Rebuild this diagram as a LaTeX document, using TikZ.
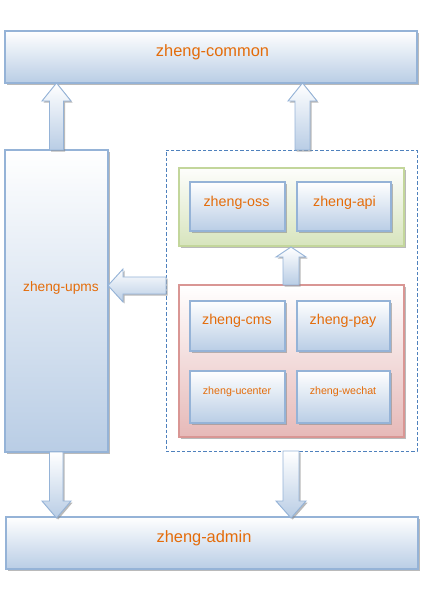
\documentclass[tikz,border=0pt]{standalone}
\usepackage{fontspec}
\setmainfont{Liberation Sans}
\usetikzlibrary{shadows}
\definecolor{bblue}{HTML}{B9CDE5}
\definecolor{bline}{HTML}{95B3D7}
\definecolor{gfill}{HTML}{D7E4BD}
\definecolor{gline}{HTML}{C3D69B}
\definecolor{rfill}{HTML}{E6B9B8}
\definecolor{rline}{HTML}{D99694}
\definecolor{txt}{HTML}{E46C0A}
\definecolor{dline}{HTML}{4F81BD}
\tikzset{
  shd/.style={drop shadow={shadow xshift=1.2pt,shadow yshift=-1.2pt,fill=black!45,opacity=0.6}},
  bluebox/.style={shd,draw=bline,line width=0.8pt,top color=white,bottom color=bblue,inner sep=0pt},
  greenbox/.style={shd,draw=gline,line width=0.8pt,top color=white!95!gfill,bottom color=gfill,inner sep=0pt},
  redbox/.style={shd,draw=rline,line width=0.8pt,top color=white,bottom color=rfill,inner sep=0pt},
  dashbox/.style={draw=dline,line width=0.7pt,dash pattern=on 2.4pt off 1.6pt,inner sep=0pt},
  blockarrow/.style={shd,draw=bline,line width=0.7pt,top color=white,bottom color=bblue,line join=miter},
  lbl/.style={text=txt,inner sep=0pt},
  big/.style={lbl,font=\fontsize{12.3}{14}\selectfont},
  mid/.style={lbl,font=\fontsize{10.7}{12}\selectfont},
  small/.style={lbl,font=\fontsize{8}{10}\selectfont},
}
\begin{document}
\begin{tikzpicture}[x=0.75pt,y=-0.75pt]
\useasboundingbox (0,0) rectangle (425,605);
% containers
\node[dashbox,minimum width=251*0.75pt,minimum height=301*0.75pt] (group) at (291.5,300.5) {};
\node[greenbox,minimum width=225*0.75pt,minimum height=78*0.75pt] (green) at (291.5,207) {};
\node[redbox,minimum width=225*0.75pt,minimum height=152*0.75pt] (red) at (291.5,361) {};
% main boxes
\node[bluebox,minimum width=412*0.75pt,minimum height=52*0.75pt] (common) at (211,57) {};
\node[bluebox,minimum width=412*0.75pt,minimum height=52*0.75pt] (admin) at (212,543) {};
\node[bluebox,minimum width=103*0.75pt,minimum height=302*0.75pt] (upms) at (56.5,301) {};
\node[bluebox,minimum width=95*0.75pt,minimum height=49*0.75pt] (oss) at (237.5,206.5) {};
\node[bluebox,minimum width=94*0.75pt,minimum height=49*0.75pt] (api) at (344,206.5) {};
\node[bluebox,minimum width=95*0.75pt,minimum height=50*0.75pt] (cms) at (237.5,326) {};
\node[bluebox,minimum width=93*0.75pt,minimum height=50*0.75pt] (pay) at (343.5,326) {};
\node[bluebox,minimum width=95*0.75pt,minimum height=52*0.75pt] (ucenter) at (237.5,397) {};
\node[bluebox,minimum width=93*0.75pt,minimum height=52*0.75pt] (wechat) at (343.5,397) {};
% labels
\node[big] (commonlbl) at (212.5,52.5) {zheng-common};
\node[big] (adminlbl) at (204,538) {zheng-admin};
\node[lbl,font=\fontsize{10.3}{12}\selectfont] (upmslbl) at (61,287.5) {zheng-upms};
\node[mid] (osslbl) at (236.5,202.5) {zheng-oss};
\node[mid] (apilbl) at (344.5,202.5) {zheng-api};
\node[mid] (cmslbl) at (237,321) {zheng-cms};
\node[mid] (paylbl) at (343,321) {zheng-pay};
\node[small] (ucenterlbl) at (237,392) {zheng-ucenter};
\node[small] (wechatlbl) at (343,392) {zheng-wechat};
% block arrows
% up-left: upms -> common
\path[blockarrow] (56.5,83) -- (71,101) -- (63.5,101) -- (63.5,150) -- (49.5,150) -- (49.5,101) -- (42,101) -- cycle;
% up-right: group -> common
\path[blockarrow] (302.5,83) -- (317,101) -- (310,101) -- (310,150) -- (295,150) -- (295,101) -- (288,101) -- cycle;
% up-middle: red -> green
\path[blockarrow] (291,247) -- (306,257) -- (299,257) -- (299,285) -- (283,285) -- (283,257) -- (276,257) -- cycle;
% left: group -> upms
\path[blockarrow] (108,285.5) -- (123,269) -- (123,277) -- (166,277) -- (166,294) -- (123,294) -- (123,302) -- cycle;
% down-left: upms -> admin
\path[blockarrow] (49.5,452) -- (63,452) -- (63,501) -- (71,501) -- (56.5,518) -- (42,501) -- (49.5,501) -- cycle;
% down-right: group -> admin
\path[blockarrow] (283,451) -- (299,451) -- (299,501) -- (306,501) -- (291,518) -- (276,501) -- (283,501) -- cycle;
\end{tikzpicture}
\end{document}
